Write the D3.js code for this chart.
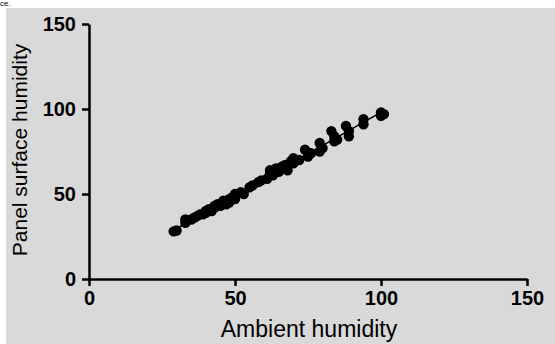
<!DOCTYPE html>
<html><head><meta charset="utf-8">
<script src="https://cdn.jsdelivr.net/npm/d3@7"></script>
<style>html,body{margin:0;padding:0;background:#fff;overflow:hidden}</style>
</head><body>
<script>
// Data
const ambient = [29,30,33,33,35,36,37,38,39,40,40,41,42,43,43,44,45,46,46,47,48,48,49,50,50,52,53,55,56,58,59,61,62,62,63,64,65,66,67,68,69,70,70,72,74,75,76,79,79,80,83,84,84,85,88,89,89,94,94,100,100,101];
const panel   = [28,28.5,33,35,35,36,37,38,38,40,39,41,40,42,43,44,43,45,46,44,47,45,48,50,47,51,50,54,55,57,58,59,62,64,61,65,63,66,67,64,69,71,68,70,76,72,74,80,75,77,87,84,81,82,90,87,84,94,91,98,96,97];
const xTicks = [0,50,100,150];
const yTicks = [0,50,100,150];
const xTitle = "Ambient humidity";
const yTitle = "Panel surface humidity";

const W = 555, H = 344;
const svg = d3.select("body").append("svg").attr("width", W).attr("height", H);
svg.append("rect").attr("x",6).attr("y",8).attr("width",W-6).attr("height",H-8).attr("fill","#d9d9d9");
svg.append("text").attr("x",0).attr("y",6).attr("font-family","Liberation Sans, Arial, sans-serif").attr("font-size",8).attr("fill","#000").text("ce.");

const x = d3.scaleLinear().domain([0,150]).range([89,527]);
const y = d3.scaleLinear().domain([0,150]).range([279,24]);
const font = "Liberation Sans, Arial, sans-serif";

const xa = svg.append("g").attr("transform","translate(0,279)")
  .call(d3.axisBottom(x).tickValues(xTicks).tickSize(7).tickSizeOuter(0).tickPadding(5));
const ya = svg.append("g").attr("transform","translate(89,0)")
  .call(d3.axisLeft(y).tickValues(yTicks).tickSize(7).tickSizeOuter(0).tickPadding(6));
[xa,ya].forEach(g=>{
  g.select(".domain").attr("stroke","#000").attr("stroke-width",2.5);
  g.selectAll(".tick line").attr("stroke","#000").attr("stroke-width",2.5);
  g.selectAll(".tick text").attr("font-family",font).attr("font-size",20).attr("font-weight","bold").attr("fill","#000");
});

svg.append("text").attr("x",309).attr("y",337).attr("text-anchor","middle")
  .attr("font-family",font).attr("font-size",23).attr("fill","#000").text(xTitle);
svg.append("text").attr("transform","translate(27,150) rotate(-90)").attr("text-anchor","middle")
  .attr("font-family",font).attr("font-size",21).attr("fill","#000").text(yTitle);

// linear fit line
const pts = ambient.map((a,i)=>[a,panel[i]]);
const mx = d3.mean(ambient), my = d3.mean(panel);
const b = d3.sum(pts,p=>(p[0]-mx)*(p[1]-my))/d3.sum(pts,p=>(p[0]-mx)**2);
const a0 = my - b*mx;
const ext = d3.extent(ambient);
svg.append("line").attr("x1",x(ext[0])).attr("x2",x(ext[1]))
  .attr("y1",y(a0+b*ext[0])).attr("y2",y(a0+b*ext[1])).attr("stroke","#000").attr("stroke-width",1.5);

svg.append("g").selectAll("circle").data(pts).join("circle")
  .attr("cx",d=>x(d[0])).attr("cy",d=>y(d[1])).attr("r",5.2).attr("fill","#000");
</script>
</body></html>
